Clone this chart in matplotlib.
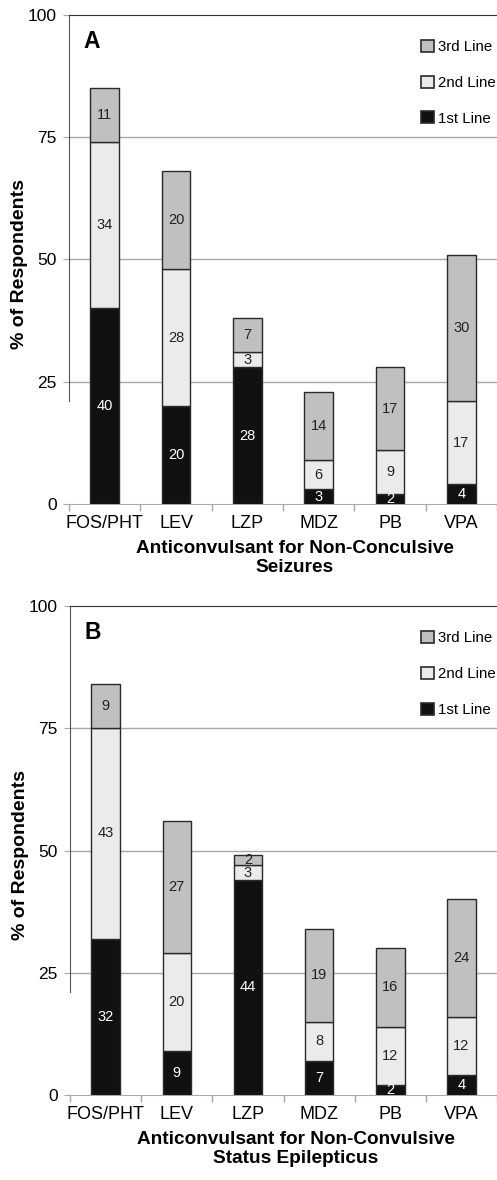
import numpy as np
import matplotlib.pyplot as plt
from matplotlib.patches import Patch

drugs = ["FOS/PHT", "LEV", "LZP", "MDZ", "PB", "VPA"]

# panel A: non-convulsive seizures
a_first = [40, 20, 28, 3, 2, 4]
a_second = [34, 28, 3, 6, 9, 17]
a_third = [11, 20, 7, 14, 17, 30]

# panel B: non-convulsive status epilepticus
b_first = [32, 9, 44, 7, 2, 4]
b_second = [43, 20, 3, 8, 12, 12]
b_third = [9, 27, 2, 19, 16, 24]

C_FIRST = "#111111"
C_SECOND = "#ebebeb"
C_THIRD = "#c0c0c0"
EDGE = "#2a2a2a"
GRID = "#a8a8a8"

plt.rcParams["font.family"] = ["Liberation Sans", "DejaVu Sans"]

fig = plt.figure(figsize=(4.97, 11.8), dpi=100)
ax_a = fig.add_axes([0.139, 0.5729, 0.861, 0.4144])
ax_b = fig.add_axes([0.141, 0.0720, 0.859, 0.4144])


def draw_panel(ax, first, second, third, letter, xlabel):
    x = np.arange(len(drugs))
    first = np.array(first)
    second = np.array(second)
    third = np.array(third)
    w = 0.4
    ax.bar(x, first, w, color=C_FIRST, edgecolor=EDGE, lw=1.0, zorder=3)
    ax.bar(x, second, w, bottom=first, color=C_SECOND, edgecolor=EDGE, lw=1.0, zorder=3)
    ax.bar(x, third, w, bottom=first + second, color=C_THIRD, edgecolor=EDGE, lw=1.0, zorder=3)

    # segment labels
    for i in range(len(drugs)):
        ax.text(x[i], first[i] / 2, str(first[i]), ha="center", va="center",
                fontsize=10.5, color="white", zorder=4)
        ax.text(x[i], first[i] + second[i] / 2, str(second[i]), ha="center",
                va="center", fontsize=10.5, color="#222222", zorder=4)
        ax.text(x[i], first[i] + second[i] + third[i] / 2, str(third[i]),
                ha="center", va="center", fontsize=10.5, color="#222222", zorder=4)

    ax.set_xlim(-0.5, 5.4)
    ax.set_ylim(0, 100)
    ax.set_yticks([0, 25, 50, 75, 100])
    for yv in [25, 50, 75]:
        ax.axhline(yv, color=GRID, lw=1.0, zorder=1)

    ax.set_xticks(x)
    ax.set_xticklabels(drugs, fontsize=13)
    ax.set_xticks(np.arange(-0.5, 6.0, 1.0), minor=True)
    ax.tick_params(axis="x", which="major", length=0, pad=8)
    ax.tick_params(axis="x", which="minor", length=5, color=GRID, width=1.0)
    ax.tick_params(axis="y", length=4, color=GRID, labelsize=12.5, pad=5)

    ax.spines["right"].set_visible(False)
    ax.spines["top"].set_color("#333333")
    ax.spines["bottom"].set_color(GRID)
    ax.spines["left"].set_color("#555555")
    ax.spines["left"].set_bounds(21, 100)

    ax.set_ylabel("% of Respondents", fontsize=14, fontweight="bold")
    ax.yaxis.set_label_coords(-0.117, 0.49, transform=ax.transAxes)
    ax.yaxis.label.set_va("center")
    ax.set_xlabel(xlabel, fontsize=13.7, fontweight="bold", linespacing=1.15)
    ax.xaxis.set_label_coords(0.528, -0.073, transform=ax.transAxes)
    ax.xaxis.label.set_va("top")

    ax.text(0.033, 0.97, letter, transform=ax.transAxes, fontsize=16.5,
            fontweight="bold", ha="left", va="top")

    handles = [Patch(facecolor=C_THIRD, edgecolor=EDGE, lw=1.2, label="3rd Line"),
               Patch(facecolor=C_SECOND, edgecolor=EDGE, lw=1.2, label="2nd Line"),
               Patch(facecolor=C_FIRST, edgecolor=EDGE, lw=1.2, label="1st Line")]
    ax.legend(handles=handles, loc="upper right", bbox_to_anchor=(1.018, 0.968),
              frameon=False, fontsize=10.8, handlelength=0.85, handleheight=0.85,
              handletextpad=0.25, labelspacing=1.45, borderaxespad=0.2)


draw_panel(ax_a, a_first, a_second, a_third, "A",
           "Anticonvulsant for Non-Conculsive\nSeizures")
draw_panel(ax_b, b_first, b_second, b_third, "B",
           "Anticonvulsant for Non-Convulsive\nStatus Epilepticus")

fig.savefig("out.png", dpi=100)
